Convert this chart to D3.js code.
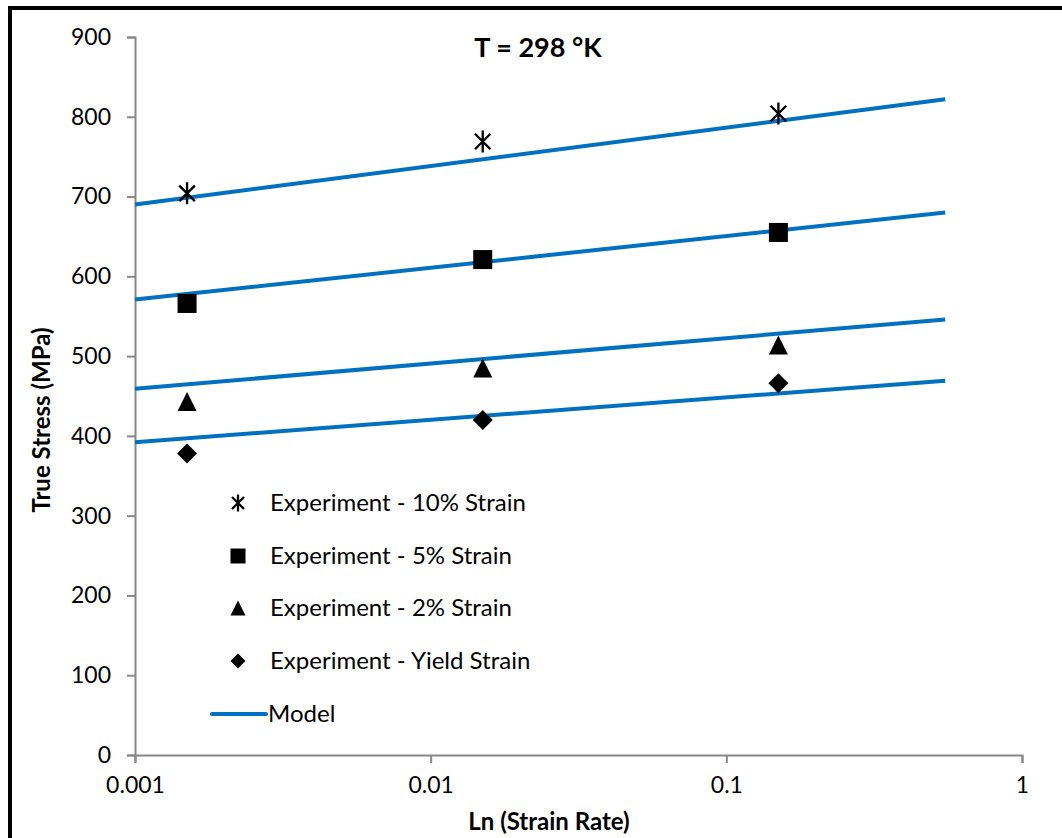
<!DOCTYPE html>
<html>
<head>
<meta charset="utf-8">
<script src="https://cdn.jsdelivr.net/npm/d3@7"></script>
<style>
  body { margin: 0; background: #fff; }
  svg text { font-family: Lato, "Open Sans", sans-serif; fill: #000; }
</style>
</head>
<body>
<div class="chart"></div>
<script>
// strain rates used in the tests
const rates = [0.0015, 0.015, 0.15];

// experimental true stress (MPa)
const strain10 = [704, 769, 804];
const strain5 = [566, 621, 655];
const strain2 = [443, 485, 514];
const yieldStrain = [378, 420, 466];

// model lines (straight in ln strain rate), start and end
const modelRates = [0.001, 0.55];
const model10 = [690, 822];
const model5 = [571, 680];
const model2 = [459, 546];
const modelYield = [392, 469];

const xTicks = [0.001, 0.01, 0.1, 1];
const yTicks = [0, 100, 200, 300, 400, 500, 600, 700, 800, 900];

const width = 1062, height = 838;
const margin = {left: 135, top: 37};

const svg = d3.select(".chart").append("svg")
  .attr("width", width)
  .attr("height", height);

// outer frame (only left and top visible in the picture)
svg.append("rect")
  .attr("x", 10).attr("y", 8)
  .attr("width", width + 20).attr("height", height + 20)
  .attr("fill", "none").attr("stroke", "#000").attr("stroke-width", 4);

const x = d3.scaleLog()
  .domain([0.001, 1])
  .range([margin.left, 1022]);

const y = d3.scaleLinear()
  .domain([0, 900])
  .range([755, margin.top]);

const gx = svg.append("g")
  .attr("transform", `translate(0,${y(0)})`)
  .call(d3.axisBottom(x).tickValues(xTicks).tickFormat(d => String(d)).tickSize(8).tickPadding(14));

const gy = svg.append("g")
  .attr("transform", `translate(${x(0.001)},0)`)
  .call(d3.axisLeft(y).tickValues(yTicks).tickSize(8).tickPadding(16));

[gx, gy].forEach(g => {
  g.select(".domain").attr("stroke", "#888").attr("stroke-width", 2);
  g.selectAll(".tick line").attr("stroke", "#888").attr("stroke-width", 2);
  g.selectAll(".tick text").style("font-size", "23px").attr("fill", "#000");
});

// model lines
const line = d3.line()
  .x(d => x(d[0]))
  .y(d => y(d[1]));

[model10, model5, model2, modelYield].forEach(m => {
  svg.append("path")
    .datum(modelRates.map((r, i) => [r, m[i]]))
    .attr("d", line)
    .attr("fill", "none")
    .attr("stroke", "#0070C0")
    .attr("stroke-width", 4);
});

// marker shapes
function asterisk(s) {
  const r = s / 2;
  const a = r * Math.cos(Math.PI / 4);
  return `M${-a},${-a}L${a},${a}M${-a},${a}L${a},${-a}M0,${-r}L0,${r}`;
}

function drawMarker(g, kind, cx, cy, s) {
  if (kind === "star") {
    g.append("path")
      .attr("d", asterisk(s))
      .attr("transform", `translate(${cx},${cy})`)
      .attr("stroke", "#000").attr("stroke-width", 2.3).attr("fill", "none");
  } else if (kind === "square") {
    g.append("rect")
      .attr("x", cx - s / 2).attr("y", cy - s / 2)
      .attr("width", s).attr("height", s)
      .attr("fill", "#000");
  } else if (kind === "triangle") {
    g.append("path")
      .attr("d", `M${cx},${cy - s / 2}L${cx + s / 2},${cy + s / 2}L${cx - s / 2},${cy + s / 2}Z`)
      .attr("fill", "#000");
  } else if (kind === "diamond") {
    g.append("path")
      .attr("d", `M${cx},${cy - s / 2}L${cx + s / 2},${cy}L${cx},${cy + s / 2}L${cx - s / 2},${cy}Z`)
      .attr("fill", "#000");
  }
}

const series = [
  {name: "Experiment - 10% Strain", values: strain10, kind: "star", size: 22},
  {name: "Experiment - 5% Strain", values: strain5, kind: "square", size: 19},
  {name: "Experiment - 2% Strain", values: strain2, kind: "triangle", size: 19},
  {name: "Experiment - Yield Strain", values: yieldStrain, kind: "diamond", size: 20}
];

const pts = svg.append("g");
series.forEach(s => {
  s.values.forEach((v, i) => drawMarker(pts, s.kind, x(rates[i]), y(v), s.size));
});

// legend
const legend = svg.append("g");
const legendY = [503, 556, 608, 661];
series.forEach((s, i) => {
  drawMarker(legend, s.kind, 238, legendY[i], s.kind === "star" ? 17 : 15);
  legend.append("text")
    .attr("x", 270).attr("y", legendY[i])
    .attr("dy", "0.35em")
    .style("font-size", "24px")
    .text(s.name);
});
legend.append("line")
  .attr("x1", 212).attr("x2", 266)
  .attr("y1", 714).attr("y2", 714)
  .attr("stroke", "#0070C0").attr("stroke-width", 4).attr("stroke-linecap", "round");
legend.append("text")
  .attr("x", 268).attr("y", 714).attr("dy", "0.35em")
  .style("font-size", "24px")
  .text("Model");

// titles
svg.append("text")
  .attr("x", 538).attr("y", 48).attr("dy", "0.35em")
  .attr("text-anchor", "middle")
  .style("font-size", "27px").style("font-weight", "bold")
  .text("T = 298 °K");

svg.append("text")
  .attr("transform", `translate(42,420) rotate(-90)`)
  .attr("text-anchor", "middle").attr("dy", "0.35em")
  .style("font-size", "24px").style("font-weight", "bold")
  .text("True Stress (MPa)");

svg.append("text")
  .attr("x", 549).attr("y", 822).attr("dy", "0.35em")
  .attr("text-anchor", "middle")
  .style("font-size", "24px").style("font-weight", "bold")
  .text("Ln (Strain Rate)");
</script>
</body>
</html>
